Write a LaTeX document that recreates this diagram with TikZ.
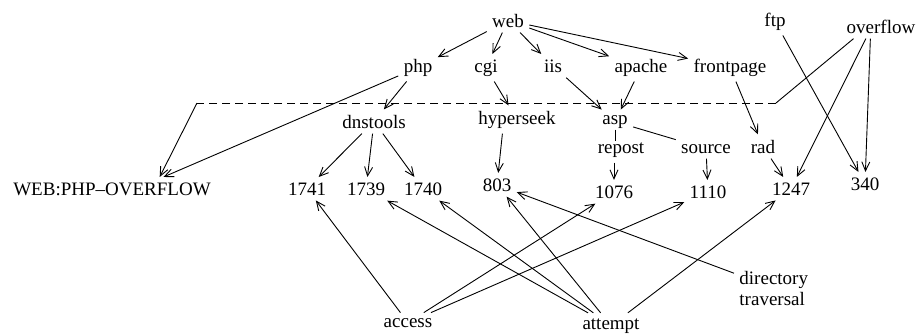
\documentclass[tikz,border=0pt]{standalone}
\usepackage{fontspec}
\setmainfont{Liberation Serif}
\usetikzlibrary{arrows.meta}

\begin{document}
\begin{tikzpicture}[x=0.5pt,y=-0.5pt,line width=0.45pt,
  lbl/.style={anchor=base,inner sep=2.5pt,font=\fontsize{9.5}{10.5}\selectfont},
  >={Straight Barb[length=4.5pt,width=4pt]}]
\useasboundingbox (0,0) rectangle (916,333);
\node[lbl](web) at (508,27){web};
\node[lbl](ftp) at (775,26){ftp};
\node[lbl](overflow) at (881,33){overflow};
\node[lbl](php) at (418,72){php};
\node[lbl](cgi) at (486,72){cgi};
\node[lbl](iis) at (553,72){iis};
\node[lbl](apache) at (641,72){apache};
\node[lbl](frontpage) at (730,72){frontpage};
\node[lbl](dnstools) at (374,128){dnstools};
\node[lbl](hyperseek) at (517,124){hyperseek};
\node[lbl](asp) at (615,124){asp};
\node[lbl](repost) at (621,153){repost};
\node[lbl](source) at (706,153){source};
\node[lbl](rad) at (763,153){rad};
\node[lbl](phpov) at (112,195){WEB:PHP--OVERFLOW};
\node[lbl](n1741) at (307,195){1741};
\node[lbl](n1739) at (366,195){1739};
\node[lbl](n1740) at (423,195){1740};
\node[lbl](n803) at (497,191){803};
\node[lbl](n1076) at (614,198){1076};
\node[lbl](n1110) at (708,198){1110};
\node[lbl](n1247) at (791,195){1247};
\node[lbl](n340) at (865,190){340};
\node[lbl](access) at (408,327){access};
\node[lbl](attempt) at (611,329){attempt};
\node[lbl,anchor=west,align=left](dirtrav) at (734,288){directory\\traversal};
\coordinate (dr) at (776,103);
\coordinate (dl) at (197,103);

\path[->] (web) edge (php);
\path[->] (web) edge (cgi);
\path[->] (web) edge (iis);
\path[->] (web) edge (apache);
\path[->] (web) edge (frontpage);
\path[->] (php) edge (dnstools);
\path[->] (php) edge (phpov.13);
\path[->] (cgi) edge (hyperseek);
\path[->] (iis) edge (asp);
\path[->] (apache) edge (asp);
\path[->] (frontpage) edge (rad);
\path[->] (dnstools) edge (n1741);
\path[->] (dnstools) edge (n1739);
\path[->] (dnstools) edge (n1740);
\path[->] (hyperseek.224) edge (n803);
\draw ([yshift=2pt]asp.south) -- ([yshift=-2pt]asp.south |- repost.north);
\draw (asp) -- (source);
\draw[->] (n1076.north |- repost.south) -- (n1076.north);
\path[->] (source) edge (n1110);
\path[->] (rad) edge (n1247);
\path[->] (overflow.219) edge (n1247);
\path[->] (overflow.229) edge (n340);
\path[->] (ftp) edge (n340);
\draw (overflow.204) -- (dr);
\draw[dash pattern=on 4pt off 2.5pt] (dr) -- (dl);
\draw[->] (dl) -- (phpov.14);
\path[->] (access) edge (n1741);
\path[->] (access) edge (n1076);
\path[->] (access) edge (n1110);
\path[->] (attempt) edge (n1739);
\path[->] (attempt) edge (n1740);
\path[->] (attempt) edge (n803);
\path[->] (attempt) edge (n1247);
\path[->] (dirtrav) edge (n803);
\end{tikzpicture}
\end{document}
